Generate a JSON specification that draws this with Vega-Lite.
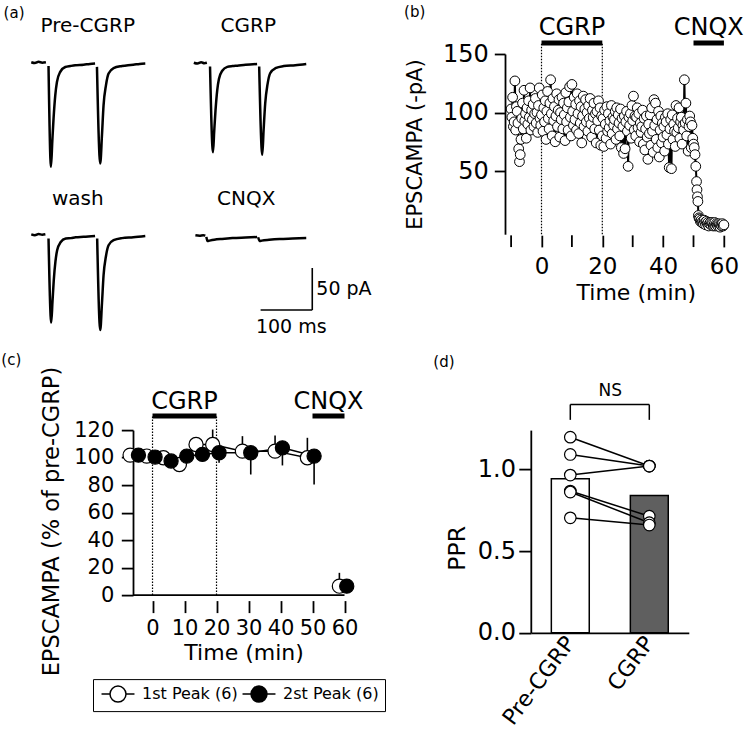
{
"$schema":"https://vega.github.io/schema/vega-lite/v6.json",
"padding":{"left":1,"top":4,"right":0,"bottom":0},
"config":{
 "font":"DejaVu Sans",
 "view":{"stroke":null},
 "axis":{"grid":false,"domainColor":"black","tickColor":"black","labelColor":"black","titleColor":"black","titleFontWeight":"normal","domainWidth":1.8,"tickWidth":1.8,"labelFont":"DejaVu Sans","titleFont":"DejaVu Sans","labelOverlap":false,"labelFlush":false},
 "legend":{"labelFont":"DejaVu Sans","labelColor":"black"},
 "title":{"font":"DejaVu Sans","fontSize":15,"fontWeight":"normal","color":"black","anchor":"start","frame":"group","offset":0},
 "text":{"font":"DejaVu Sans","color":"black"}
},
"datasets":{
 "traces":[
  {"tr":"Pre-CGRP","seg":"a","t":0,"i":1.5},{"tr":"Pre-CGRP","seg":"a","t":7,"i":0.5},{"tr":"Pre-CGRP","seg":"a","t":14,"i":2},{"tr":"Pre-CGRP","seg":"a","t":21,"i":1},{"tr":"Pre-CGRP","seg":"a","t":28,"i":1.5},
  {"tr":"Pre-CGRP","seg":"b","t":33,"i":-3},{"tr":"Pre-CGRP","seg":"b","t":37.7,"i":-123},{"tr":"Pre-CGRP","seg":"b","t":40.2,"i":-93},{"tr":"Pre-CGRP","seg":"b","t":42.6,"i":-65.7},{"tr":"Pre-CGRP","seg":"b","t":45.9,"i":-37.9},{"tr":"Pre-CGRP","seg":"b","t":49.1,"i":-22},{"tr":"Pre-CGRP","seg":"b","t":55.4,"i":-10},{"tr":"Pre-CGRP","seg":"b","t":65,"i":-4.2},{"tr":"Pre-CGRP","seg":"b","t":75,"i":-3},{"tr":"Pre-CGRP","seg":"b","t":84,"i":-2.1},{"tr":"Pre-CGRP","seg":"b","t":100,"i":-1.5},{"tr":"Pre-CGRP","seg":"b","t":112,"i":-0.5},{"tr":"Pre-CGRP","seg":"b","t":122,"i":0},
  {"tr":"Pre-CGRP","seg":"c","t":125.6,"i":-4},{"tr":"Pre-CGRP","seg":"c","t":131.9,"i":-119},{"tr":"Pre-CGRP","seg":"c","t":135.2,"i":-85},{"tr":"Pre-CGRP","seg":"c","t":138.2,"i":-49.8},{"tr":"Pre-CGRP","seg":"c","t":142.8,"i":-26},{"tr":"Pre-CGRP","seg":"c","t":147.8,"i":-12},{"tr":"Pre-CGRP","seg":"c","t":157.4,"i":-5.4},{"tr":"Pre-CGRP","seg":"c","t":173.5,"i":-3},{"tr":"Pre-CGRP","seg":"c","t":185,"i":-2},{"tr":"Pre-CGRP","seg":"c","t":195,"i":-1.5},{"tr":"Pre-CGRP","seg":"c","t":207,"i":-0.5},{"tr":"Pre-CGRP","seg":"c","t":218,"i":0},
  {"tr":"CGRP","seg":"a","t":1,"i":1.5},{"tr":"CGRP","seg":"a","t":8,"i":0.5},{"tr":"CGRP","seg":"a","t":15,"i":2},{"tr":"CGRP","seg":"a","t":21,"i":1},{"tr":"CGRP","seg":"a","t":26,"i":1.5},
  {"tr":"CGRP","seg":"b","t":32,"i":-3},{"tr":"CGRP","seg":"b","t":37.7,"i":-105},{"tr":"CGRP","seg":"b","t":40,"i":-80},{"tr":"CGRP","seg":"b","t":42.5,"i":-55},{"tr":"CGRP","seg":"b","t":45.8,"i":-31},{"tr":"CGRP","seg":"b","t":49,"i":-18},{"tr":"CGRP","seg":"b","t":55.4,"i":-8},{"tr":"CGRP","seg":"b","t":65,"i":-3.5},{"tr":"CGRP","seg":"b","t":75,"i":-2.5},{"tr":"CGRP","seg":"b","t":84,"i":-2},{"tr":"CGRP","seg":"b","t":100,"i":-1},{"tr":"CGRP","seg":"b","t":122,"i":0},
  {"tr":"CGRP","seg":"c","t":126,"i":-3},{"tr":"CGRP","seg":"c","t":131.9,"i":-108},{"tr":"CGRP","seg":"c","t":134.5,"i":-78},{"tr":"CGRP","seg":"c","t":137.5,"i":-47},{"tr":"CGRP","seg":"c","t":142,"i":-24},{"tr":"CGRP","seg":"c","t":147,"i":-11},{"tr":"CGRP","seg":"c","t":157,"i":-5},{"tr":"CGRP","seg":"c","t":173,"i":-2.5},{"tr":"CGRP","seg":"c","t":195,"i":-1.5},{"tr":"CGRP","seg":"c","t":216,"i":0},
  {"tr":"wash","seg":"a","t":0,"i":2},{"tr":"wash","seg":"a","t":7,"i":1},{"tr":"wash","seg":"a","t":14,"i":2.5},{"tr":"wash","seg":"a","t":21,"i":1.5},{"tr":"wash","seg":"a","t":27,"i":2},
  {"tr":"wash","seg":"b","t":33,"i":-3},{"tr":"wash","seg":"b","t":38.2,"i":-103},{"tr":"wash","seg":"b","t":40.6,"i":-78},{"tr":"wash","seg":"b","t":43,"i":-53},{"tr":"wash","seg":"b","t":46.3,"i":-30},{"tr":"wash","seg":"b","t":49.5,"i":-17},{"tr":"wash","seg":"b","t":56,"i":-7.5},{"tr":"wash","seg":"b","t":66,"i":-3},{"tr":"wash","seg":"b","t":76,"i":-2.5},{"tr":"wash","seg":"b","t":85,"i":-1.5},{"tr":"wash","seg":"b","t":100,"i":-1},{"tr":"wash","seg":"b","t":122,"i":0},
  {"tr":"wash","seg":"c","t":126,"i":-3},{"tr":"wash","seg":"c","t":131.9,"i":-112},{"tr":"wash","seg":"c","t":135.2,"i":-80},{"tr":"wash","seg":"c","t":138.2,"i":-47},{"tr":"wash","seg":"c","t":142.8,"i":-24},{"tr":"wash","seg":"c","t":147.8,"i":-11},{"tr":"wash","seg":"c","t":157.4,"i":-5},{"tr":"wash","seg":"c","t":173.5,"i":-2.5},{"tr":"wash","seg":"c","t":195,"i":-1.5},{"tr":"wash","seg":"c","t":218,"i":0},
  {"tr":"CNQX","seg":"a","t":4,"i":0.8},{"tr":"CNQX","seg":"a","t":12,"i":0.3},{"tr":"CNQX","seg":"a","t":19,"i":1},{"tr":"CNQX","seg":"a","t":23,"i":0.5},
  {"tr":"CNQX","seg":"b","t":25,"i":-1},{"tr":"CNQX","seg":"b","t":27,"i":-6},{"tr":"CNQX","seg":"b","t":31,"i":-5.5},{"tr":"CNQX","seg":"b","t":40,"i":-4.5},{"tr":"CNQX","seg":"b","t":55,"i":-3.5},{"tr":"CNQX","seg":"b","t":75,"i":-2.5},{"tr":"CNQX","seg":"b","t":100,"i":-1.8},{"tr":"CNQX","seg":"b","t":122,"i":-1.2},
  {"tr":"CNQX","seg":"c","t":124,"i":-1.5},{"tr":"CNQX","seg":"c","t":127,"i":-6},{"tr":"CNQX","seg":"c","t":131,"i":-5.5},{"tr":"CNQX","seg":"c","t":145,"i":-4.5},{"tr":"CNQX","seg":"c","t":165,"i":-3.5},{"tr":"CNQX","seg":"c","t":190,"i":-3},{"tr":"CNQX","seg":"c","t":216,"i":-2.5}
 ],
 "scalebar":[{"t":128.7,"t2":227.5,"i":-88.1,"i2":-88.1},{"t":227.5,"t2":227.5,"i":-38.1,"i2":-88.1}],
 "drugs":[{"d":"CGRP","s":0,"e":20,"m":10},{"d":"CNQX","s":50,"e":60,"m":55}],
 "scatter":[
{"t":-10,"v":103},{"t":-9.75,"v":96},{"t":-9.5,"v":113},{"t":-9.25,"v":88},
{"t":-9,"v":92},{"t":-8.75,"v":127},{"t":-8.5,"v":85},{"t":-8.25,"v":105},
{"t":-8,"v":101},{"t":-7.75,"v":91},{"t":-7.5,"v":69},{"t":-7.25,"v":58},
{"t":-7,"v":64},{"t":-6.75,"v":77},{"t":-6.5,"v":95},{"t":-6.25,"v":108},
{"t":-6,"v":86},{"t":-5.75,"v":119},{"t":-5.5,"v":93},{"t":-5.25,"v":99},
{"t":-5,"v":78},{"t":-4.75,"v":104},{"t":-4.5,"v":90},{"t":-4.25,"v":110},
{"t":-4,"v":96},{"t":-3.75,"v":121},{"t":-3.5,"v":85},{"t":-3.25,"v":102},
{"t":-3,"v":94},{"t":-2.75,"v":107},{"t":-2.5,"v":88},{"t":-2.25,"v":99},
{"t":-2,"v":112},{"t":-1.75,"v":91},{"t":-1.5,"v":100},{"t":-1.25,"v":83},
{"t":-1,"v":106},{"t":-0.75,"v":121},{"t":-0.5,"v":95},{"t":-0.25,"v":89},
{"t":0,"v":98},{"t":0.25,"v":115},{"t":0.5,"v":84},{"t":0.75,"v":104},
{"t":1,"v":92},{"t":1.25,"v":110},{"t":1.5,"v":77},{"t":1.75,"v":101},
{"t":2,"v":118},{"t":2.25,"v":95},{"t":2.5,"v":86},{"t":2.75,"v":108},
{"t":3,"v":128},{"t":3.25,"v":99},{"t":3.5,"v":80},{"t":3.75,"v":112},
{"t":4,"v":93},{"t":4.25,"v":105},{"t":4.5,"v":75},{"t":4.75,"v":97},
{"t":5,"v":116},{"t":5.25,"v":88},{"t":5.5,"v":102},{"t":5.75,"v":111},
{"t":6,"v":79},{"t":6.25,"v":100},{"t":6.5,"v":94},{"t":6.75,"v":113},
{"t":7,"v":86},{"t":7.25,"v":108},{"t":7.5,"v":98},{"t":7.75,"v":76},
{"t":8,"v":117},{"t":8.25,"v":92},{"t":8.5,"v":104},{"t":8.75,"v":85},
{"t":9,"v":109},{"t":9.25,"v":122},{"t":9.5,"v":96},{"t":9.75,"v":80},
{"t":10,"v":124},{"t":10.25,"v":101},{"t":10.5,"v":89},{"t":10.75,"v":113},
{"t":11,"v":94},{"t":11.25,"v":107},{"t":11.5,"v":85},{"t":11.75,"v":116},
{"t":12,"v":99},{"t":12.25,"v":82},{"t":12.5,"v":110},{"t":12.75,"v":91},
{"t":13,"v":105},{"t":13.25,"v":74},{"t":13.5,"v":97},{"t":13.75,"v":114},
{"t":14,"v":88},{"t":14.25,"v":103},{"t":14.5,"v":111},{"t":14.75,"v":92},
{"t":15,"v":100},{"t":15.25,"v":84},{"t":15.5,"v":106},{"t":15.75,"v":95},
{"t":16,"v":112},{"t":16.25,"v":90},{"t":16.5,"v":79},{"t":16.75,"v":102},
{"t":17,"v":96},{"t":17.25,"v":108},{"t":17.5,"v":86},{"t":17.75,"v":99},
{"t":18,"v":74},{"t":18.25,"v":101},{"t":18.5,"v":93},{"t":18.75,"v":110},
{"t":19,"v":85},{"t":19.25,"v":104},{"t":19.5,"v":72},{"t":19.75,"v":97},
{"t":20,"v":80},{"t":20.25,"v":95},{"t":20.5,"v":71},{"t":20.75,"v":102},
{"t":21,"v":90},{"t":21.25,"v":78},{"t":21.5,"v":105},{"t":21.75,"v":84},
{"t":22,"v":99},{"t":22.25,"v":87},{"t":22.5,"v":93},{"t":22.75,"v":73},
{"t":23,"v":106},{"t":23.25,"v":82},{"t":23.5,"v":96},{"t":23.75,"v":89},
{"t":24,"v":94},{"t":24.25,"v":101},{"t":24.5,"v":77},{"t":24.75,"v":104},
{"t":25,"v":86},{"t":25.25,"v":98},{"t":25.5,"v":91},{"t":25.75,"v":80},
{"t":26,"v":103},{"t":26.25,"v":70},{"t":26.5,"v":95},{"t":26.75,"v":88},
{"t":27,"v":65},{"t":27.25,"v":97},{"t":27.5,"v":69},{"t":27.75,"v":92},
{"t":28,"v":101},{"t":28.25,"v":84},{"t":28.5,"v":54},{"t":28.75,"v":96},
{"t":29,"v":89},{"t":29.25,"v":99},{"t":29.5,"v":78},{"t":29.75,"v":106},
{"t":30,"v":93},{"t":30.25,"v":114},{"t":30.5,"v":85},{"t":30.75,"v":97},
{"t":31,"v":80},{"t":31.25,"v":96},{"t":31.5,"v":104},{"t":31.75,"v":87},
{"t":32,"v":99},{"t":32.25,"v":75},{"t":32.5,"v":91},{"t":32.75,"v":83},
{"t":33,"v":88},{"t":33.25,"v":102},{"t":33.5,"v":73},{"t":33.75,"v":95},
{"t":34,"v":68},{"t":34.25,"v":86},{"t":34.5,"v":97},{"t":34.75,"v":79},
{"t":35,"v":60},{"t":35.25,"v":90},{"t":35.5,"v":82},{"t":35.75,"v":98},
{"t":36,"v":72},{"t":36.25,"v":104},{"t":36.5,"v":84},{"t":36.75,"v":66},
{"t":37,"v":111},{"t":37.25,"v":89},{"t":37.5,"v":108},{"t":37.75,"v":77},
{"t":38,"v":94},{"t":38.25,"v":70},{"t":38.5,"v":101},{"t":38.75,"v":62},
{"t":39,"v":85},{"t":39.25,"v":97},{"t":39.5,"v":74},{"t":39.75,"v":91},
{"t":40,"v":79},{"t":40.25,"v":88},{"t":40.5,"v":67},{"t":40.75,"v":96},
{"t":41,"v":92},{"t":41.25,"v":81},{"t":41.5,"v":99},{"t":41.75,"v":73},
{"t":42,"v":53},{"t":42.25,"v":86},{"t":42.5,"v":94},{"t":42.75,"v":52},
{"t":43,"v":98},{"t":43.25,"v":77},{"t":43.5,"v":90},{"t":43.75,"v":84},
{"t":44,"v":71},{"t":44.25,"v":106},{"t":44.5,"v":83},{"t":44.75,"v":95},
{"t":45,"v":87},{"t":45.25,"v":104},{"t":45.5,"v":78},{"t":45.75,"v":92},
{"t":46,"v":96},{"t":46.25,"v":73},{"t":46.5,"v":89},{"t":46.75,"v":85},
{"t":47,"v":128},{"t":47.25,"v":91},{"t":47.5,"v":108},{"t":47.75,"v":80},
{"t":48,"v":94},{"t":48.25,"v":67},{"t":48.5,"v":88},{"t":48.75,"v":97},
{"t":49,"v":92},{"t":49.25,"v":70},{"t":49.5,"v":89},{"t":49.75,"v":78},
{"t":50,"v":73},{"t":50.25,"v":70},{"t":50.5,"v":64},{"t":50.75,"v":54},
{"t":51,"v":41},{"t":51.15,"v":34},{"t":51.3,"v":28},{"t":51.45,"v":24},{"t":51.6,"v":12},{"t":51.8,"v":10},
{"t":52,"v":9},{"t":52.25,"v":7},{"t":52.5,"v":8},{"t":52.75,"v":6},
{"t":53,"v":7},{"t":53.25,"v":5},{"t":53.5,"v":8},{"t":53.75,"v":6},
{"t":54,"v":4},{"t":54.25,"v":7},{"t":54.5,"v":5},{"t":54.75,"v":6},
{"t":55,"v":3},{"t":55.25,"v":5},{"t":55.5,"v":6},{"t":55.75,"v":4},
{"t":56,"v":6},{"t":56.25,"v":5},{"t":56.5,"v":3},{"t":56.75,"v":4},
{"t":57,"v":6},{"t":57.25,"v":3},{"t":57.5,"v":5},{"t":57.75,"v":4},
{"t":58,"v":3},{"t":58.25,"v":5},{"t":58.5,"v":4},{"t":58.75,"v":2},
{"t":59,"v":4},{"t":59.25,"v":3},{"t":59.5,"v":5},{"t":59.75,"v":3},
{"t":60,"v":4}
 ],
 "norm":[
  {"s":"1st Peak (6)","ph":"a","t":-7.0,"v":101.8,"e":104.5},
  {"s":"1st Peak (6)","ph":"a","t":-1.8,"v":101.1,"e":103.5},
  {"s":"1st Peak (6)","ph":"a","t":3.4,"v":99.9,"e":103},
  {"s":"1st Peak (6)","ph":"a","t":8.4,"v":95,"e":98},
  {"s":"1st Peak (6)","ph":"a","t":13.6,"v":109.5,"e":114},
  {"s":"1st Peak (6)","ph":"a","t":18.8,"v":109.5,"e":120.4},
  {"s":"1st Peak (6)","ph":"a","t":28.1,"v":104.7,"e":115.6},
  {"s":"1st Peak (6)","ph":"a","t":38.3,"v":104.7,"e":116.1},
  {"s":"1st Peak (6)","ph":"a","t":48.4,"v":99.9,"e":114.4},
  {"s":"1st Peak (6)","ph":"b","t":58.4,"v":6.5,"e":16.2},
  {"s":"2st Peak (6)","ph":"a","t":-4.4,"v":101.8,"e":99},
  {"s":"2st Peak (6)","ph":"a","t":0.8,"v":100.4,"e":97.5},
  {"s":"2st Peak (6)","ph":"a","t":5.8,"v":97.5,"e":94},
  {"s":"2st Peak (6)","ph":"a","t":10.7,"v":101.1,"e":97.5},
  {"s":"2st Peak (6)","ph":"a","t":15.6,"v":102.3,"e":98.5},
  {"s":"2st Peak (6)","ph":"a","t":20.8,"v":103.5,"e":96.2},
  {"s":"2st Peak (6)","ph":"a","t":30.7,"v":103.5,"e":87.7},
  {"s":"2st Peak (6)","ph":"a","t":40.6,"v":107.1,"e":94.3},
  {"s":"2st Peak (6)","ph":"a","t":50.5,"v":101.1,"e":80.5},
  {"s":"2st Peak (6)","ph":"b","t":60.7,"v":6.5,"e":3}
 ],
 "ppr":[
  {"cell":1,"cond":"Pre-CGRP","p":1.198},{"cell":2,"cond":"Pre-CGRP","p":1.092},{"cell":3,"cond":"Pre-CGRP","p":0.966},{"cell":4,"cond":"Pre-CGRP","p":0.868},{"cell":5,"cond":"Pre-CGRP","p":0.862},{"cell":6,"cond":"Pre-CGRP","p":0.704},
  {"cell":1,"cond":"CGRP","p":1.021},{"cell":2,"cond":"CGRP","p":1.021},{"cell":3,"cond":"CGRP","p":1.021},{"cell":4,"cond":"CGRP","p":0.714},{"cell":5,"cond":"CGRP","p":0.674},{"cell":6,"cond":"CGRP","p":0.66}
 ],
 "pprbar":[{"cond":"Pre-CGRP","m":0.943},{"cond":"CGRP","m":0.841}]
},
"columns":2,
"align":"each",
"bounds":"flush",
"spacing":{"row":195.1,"column":185.8},
"resolve":{"scale":{"fill":"independent"},"legend":{"fill":"independent"}},
"concat":[
 {
  "title":{"text":"(a)","dx":-129.4,"dy":9},
  "width":185.7,"height":173.2,
  "resolve":{"scale":{"x":"independent","y":"independent"}},
  "layer":[
   {"layer":[
     {"data":{"name":"traces"},"transform":[{"filter":"datum.tr === 'Pre-CGRP'"}],
      "mark":{"type":"line","color":"black","strokeWidth":2.5,"interpolate":"monotone"},
      "encoding":{"x":{"field":"t","type":"quantitative","scale":{"domain":[194.5,549.5],"nice":false,"zero":false},"axis":null},
                  "y":{"field":"i","type":"quantitative","scale":{"domain":[-194.9,11.3],"nice":false,"zero":false},"axis":null},
                  "detail":{"field":"seg"}}},
     {"data":{"values":[{"lab":"Pre-CGRP"}]},"mark":{"type":"text","fontSize":20,"baseline":"middle"},
      "encoding":{"x":{"datum":108,"type":"quantitative","axis":null},"y":{"datum":44.6,"type":"quantitative","axis":null},"text":{"field":"lab"}}}
   ]},
   {"layer":[
     {"data":{"name":"traces"},"transform":[{"filter":"datum.tr === 'CGRP'"}],
      "mark":{"type":"line","color":"black","strokeWidth":2.5,"interpolate":"monotone"},
      "encoding":{"x":{"field":"t","type":"quantitative","scale":{"domain":[-115.3,239.8],"nice":false,"zero":false},"axis":null},
                  "y":{"field":"i","type":"quantitative","scale":{"domain":[-194.3,11.9],"nice":false,"zero":false},"axis":null},
                  "detail":{"field":"seg"}}},
     {"data":{"values":[{"lab":"CGRP"}]},"mark":{"type":"text","fontSize":20,"baseline":"middle"},
      "encoding":{"x":{"datum":105.2,"type":"quantitative","axis":null},"y":{"datum":45.2,"type":"quantitative","axis":null},"text":{"field":"lab"}}}
   ]},
   {"layer":[
     {"data":{"name":"traces"},"transform":[{"filter":"datum.tr === 'wash'"}],
      "mark":{"type":"line","color":"black","strokeWidth":2.5,"interpolate":"monotone"},
      "encoding":{"x":{"field":"t","type":"quantitative","scale":{"domain":[194.5,549.5],"nice":false,"zero":false},"axis":null},
                  "y":{"field":"i","type":"quantitative","scale":{"domain":[10.5,216.7],"nice":false,"zero":false},"axis":null},
                  "detail":{"field":"seg"}}},
     {"data":{"values":[{"lab":"wash"}]},"mark":{"type":"text","fontSize":20,"baseline":"middle"},
      "encoding":{"x":{"datum":89,"type":"quantitative","axis":null},"y":{"datum":44,"type":"quantitative","axis":null},"text":{"field":"lab"}}}
   ]},
   {"layer":[
     {"data":{"name":"traces"},"transform":[{"filter":"datum.tr === 'CNQX'"}],
      "mark":{"type":"line","color":"black","strokeWidth":2.5,"interpolate":"monotone"},
      "encoding":{"x":{"field":"t","type":"quantitative","scale":{"domain":[-115.3,239.8],"nice":false,"zero":false},"axis":null},
                  "y":{"field":"i","type":"quantitative","scale":{"domain":[10.5,216.7],"nice":false,"zero":false},"axis":null},
                  "detail":{"field":"seg"}}},
     {"data":{"values":[{"lab":"CNQX"}]},"mark":{"type":"text","fontSize":20,"baseline":"middle"},
      "encoding":{"x":{"datum":101.3,"type":"quantitative","axis":null},"y":{"datum":44,"type":"quantitative","axis":null},"text":{"field":"lab"}}},
     {"data":{"name":"scalebar"},"mark":{"type":"rule","color":"black","strokeWidth":1.6},
      "encoding":{"x":{"field":"t","type":"quantitative","axis":null},"x2":{"field":"t2"},"y":{"field":"i","type":"quantitative","axis":null},"y2":{"field":"i2"}}},
     {"data":{"values":[{"lab":"50 pA"}]},"mark":{"type":"text","fontSize":19,"align":"left","baseline":"middle"},
      "encoding":{"x":{"datum":235.2,"type":"quantitative","axis":null},"y":{"datum":-63.1,"type":"quantitative","axis":null},"text":{"field":"lab"}}},
     {"data":{"values":[{"lab":"100 ms"}]},"mark":{"type":"text","fontSize":19,"align":"center","baseline":"middle"},
      "encoding":{"x":{"datum":187.4,"type":"quantitative","axis":null},"y":{"datum":-108.3,"type":"quantitative","axis":null},"text":{"field":"lab"}}}
   ]}
  ]
 },
 {
  "title":{"text":"(b)","dx":-126.7,"dy":7.5},
  "width":193.1,"height":180.2,
  "layer":[
   {"data":{"values":[{"t":0},{"t":20}]},"mark":{"type":"rule","strokeDash":[1.5,1.5],"strokeWidth":1.2,"color":"black"},
    "encoding":{"x":{"field":"t","type":"quantitative","scale":{"domain":[-3.52,60],"nice":false,"zero":false},
                 "axis":{"values":[0,20,40,60],"tickCount":20,"domain":false,"offset":1,"tickSize":11.7,"labelFontSize":23,"labelPadding":9,"title":"Time (min)","titleFontSize":22,"titleX":105,"titlePadding":4}},
                "y":{"datum":-4,"type":"quantitative","scale":{"domain":[-4,150],"nice":false,"zero":false},
                 "axis":{"values":[50,100,150],"tickCount":20,"offset":25.8,"tickSize":10.7,"labelFontSize":24,"labelPadding":6,"title":"EPSCAMPA (-pA)","titleFontSize":21,"titlePadding":17}},
                "y2":{"datum":159.4}}},
   {"data":{"values":[{"t":-10},{"t":10},{"t":30},{"t":50}]},"mark":{"type":"rule","strokeWidth":1.8,"color":"black"},
    "encoding":{"x":{"field":"t","type":"quantitative"},"y":{"datum":-5,"type":"quantitative"},"y2":{"datum":-15}}},
   {"data":{"name":"drugs"},"mark":{"type":"rule","strokeWidth":5,"color":"black"},
    "encoding":{"x":{"field":"s","type":"quantitative"},"x2":{"field":"e"},"y":{"datum":159.4,"type":"quantitative"}}},
   {"data":{"name":"drugs"},"mark":{"type":"text","fontSize":24,"baseline":"alphabetic"},
    "encoding":{"x":{"field":"m","type":"quantitative"},"y":{"datum":166,"type":"quantitative"},"text":{"field":"d"}}},
   {"data":{"name":"scatter"},"mark":{"type":"line","color":"black","strokeWidth":2},
    "encoding":{"x":{"field":"t","type":"quantitative"},"y":{"field":"v","type":"quantitative"}}},
   {"data":{"name":"scatter"},"mark":{"type":"point","shape":"circle","size":95,"filled":true,"fill":"white","stroke":"black","strokeWidth":1,"opacity":1},
    "encoding":{"x":{"field":"t","type":"quantitative"},"y":{"field":"v","type":"quantitative"}}}
  ]
 },
 {
  "title":{"text":"(c)","dx":-131.7,"dy":6},
  "width":211.5,"height":165,
  "layer":[
   {"data":{"values":[{"z":0}]},"mark":{"type":"rule","strokeWidth":1.8,"color":"black"},
    "encoding":{"y":{"field":"z","type":"quantitative"}}},
   {"data":{"values":[{"t":0},{"t":20}]},"mark":{"type":"rule","strokeDash":[1.5,1.5],"strokeWidth":1.2,"color":"black"},
    "encoding":{"x":{"field":"t","type":"quantitative"},"y":{"datum":0,"type":"quantitative"},"y2":{"datum":130.6}}},
   {"data":{"name":"drugs"},"mark":{"type":"rule","strokeWidth":5,"color":"black"},
    "encoding":{"x":{"field":"s","type":"quantitative"},"x2":{"field":"e"},"y":{"datum":130.3,"type":"quantitative"}}},
   {"data":{"name":"drugs"},"mark":{"type":"text","fontSize":24,"baseline":"alphabetic"},
    "encoding":{"x":{"field":"m","type":"quantitative"},"y":{"datum":135.5,"type":"quantitative"},"text":{"field":"d"}}},
   {"data":{"name":"norm"},"mark":{"type":"line","color":"black","strokeWidth":1.5},
    "encoding":{"x":{"field":"t","type":"quantitative"},"y":{"field":"v","type":"quantitative"},"detail":[{"field":"s"},{"field":"ph"}]}},
   {"data":{"name":"norm"},"mark":{"type":"rule","color":"black","strokeWidth":1.6},
    "encoding":{"x":{"field":"t","type":"quantitative"},"y":{"field":"v","type":"quantitative"},"y2":{"field":"e"}}},
   {"data":{"name":"norm"},"mark":{"type":"point","shape":"circle","size":200,"filled":true,"stroke":"black","strokeWidth":1.2,"opacity":1},
    "encoding":{"x":{"field":"t","type":"quantitative","scale":{"domain":[-6.1,60],"nice":false,"zero":false},
                 "axis":{"values":[0,10,20,30,40,50,60],"tickCount":20,"domain":false,"offset":5.5,"tickSize":12,"labelFontSize":21,"labelPadding":5,"title":"Time (min)","titleFontSize":22,"titleX":110.6,"titlePadding":4}},
                "y":{"field":"v","type":"quantitative","scale":{"domain":[0,120],"nice":false,"zero":false},
                 "axis":{"values":[0,20,40,60,80,100,120],"tickCount":20,"tickSize":11.7,"labelPadding":7.5,"labelFontSize":21,"title":"EPSCAMPA (% of pre-CGRP)","titleFontSize":22.5,"titleY":91,"titlePadding":10}},
                "fill":{"field":"s","type":"nominal","scale":{"domain":["1st Peak (6)","2st Peak (6)"],"range":["white","black"]},
                 "legend":{"orient":"none","legendX":-40,"legendY":249,"direction":"horizontal","title":null,"strokeColor":"black","padding":6,
                   "symbolType":"M-2.06,0L-1,0M1,0L2.06,0M-1,0A1,1,0,1,1,1,0A1,1,0,1,1,-1,0Z","symbolSize":256,"symbolStrokeColor":"black","symbolStrokeWidth":1.5,
                   "labelFontSize":16,"labelOffset":15,"columnPadding":1,"symbolOffset":10}}}}
  ]
 },
 {
  "title":{"text":"(d)","dx":-97.5,"dy":-8},
  "width":158,"height":202.7,
  "layer":[
   {"data":{"name":"pprbar"},"mark":{"type":"bar","stroke":"black","strokeWidth":1.5},
    "encoding":{"x":{"field":"cond","type":"nominal","scale":{"domain":["Pre-CGRP","CGRP"],"paddingInner":0.52,"paddingOuter":0.26},
                 "axis":{"title":null,"ticks":false,"tickSize":0,"labelAngle":-53,"labelAlign":"right","labelBaseline":"middle","labelFontSize":22,"labelPadding":6}},
                "y":{"field":"m","type":"quantitative","scale":{"domain":[0,1.2413],"nice":false},
                 "axis":{"values":[0,0.5,1],"tickCount":20,"format":".1f","tickSize":12,"labelPadding":3.3,"labelFontSize":24,"title":"PPR","titleFontSize":23.5,"titlePadding":8,"titleY":117.7}},
                "fill":{"field":"cond","type":"nominal","scale":{"domain":["Pre-CGRP","CGRP"],"range":["white","#5f5f5f"]},"legend":null}}},
   {"data":{"name":"ppr"},"mark":{"type":"line","color":"black","strokeWidth":1.5},
    "encoding":{"x":{"field":"cond","type":"nominal"},"y":{"field":"p","type":"quantitative"},"detail":{"field":"cell"}}},
   {"data":{"name":"ppr"},"mark":{"type":"point","shape":"circle","size":133,"filled":true,"fill":"white","stroke":"black","strokeWidth":1.2,"opacity":1},
    "encoding":{"x":{"field":"cond","type":"nominal"},"y":{"field":"p","type":"quantitative"}}},
   {"data":{"values":[{"a":"Pre-CGRP","b":"CGRP"}]},"mark":{"type":"rule","strokeWidth":1.5,"color":"black"},
    "encoding":{"x":{"field":"a","type":"nominal"},"x2":{"field":"b"},"y":{"datum":1.398,"type":"quantitative"}}},
   {"data":{"values":[{"a":"Pre-CGRP"},{"a":"CGRP"}]},"mark":{"type":"rule","strokeWidth":1.5,"color":"black"},
    "encoding":{"x":{"field":"a","type":"nominal"},"y":{"datum":1.398,"type":"quantitative"},"y2":{"datum":1.304}}},
   {"data":{"values":[{"lab":"NS","a":"Pre-CGRP"}]},"mark":{"type":"text","fontSize":17,"dx":40,"baseline":"middle"},
    "encoding":{"x":{"field":"a","type":"nominal"},"y":{"datum":1.48,"type":"quantitative"},"text":{"field":"lab"}}}
  ]
 }
]
}
